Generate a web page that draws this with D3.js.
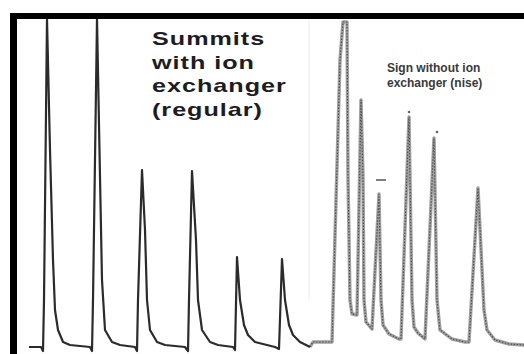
<!DOCTYPE html>
<html>
<head>
<meta charset="utf-8">
<script src="https://cdn.jsdelivr.net/npm/d3@7"></script>
<style>
  html, body { margin: 0; padding: 0; background: #fff; }
  svg { display: block; }
</style>
</head>
<body>
<div id="chart"></div>
<script>
// Trace: time (s from start) and detector signal (arbitrary units)
const regularTime = [12, 24, 26, 27, 30, 33, 36, 38, 41, 46, 53, 73, 75, 76, 80, 83, 85, 88, 95, 103,
  118, 120, 121, 125, 128, 130, 133, 140, 148, 168, 171, 172, 175, 179, 181, 185, 193, 201,
  216, 218, 220, 223, 227, 231, 238, 258, 262, 265, 268, 272, 276, 283, 293];
const regularSignal = [-2, -2, -6, 45, 326, 195, 85, 35, 15, 3, 0, -2, -6, 45, 326, 168, 65, 15, 3, 0,
  -2, -6, 45, 175, 115, 45, 15, 3, 0, -2, -6, 45, 174, 105, 45, 15, 3, 0,
  -2, -5, 88, 45, 20, 10, 3, -2, -4, 86, 45, 20, 10, 3, -2];

const noiseTime = [296, 315, 323, 326, 330, 331, 333, 335, 340, 344, 346, 347, 349, 355, 362, 364, 366,
  372, 382, 384, 392, 395, 397, 401, 408, 417, 420, 423, 435, 448, 452, 461, 467, 470, 478, 492, 507];
const noiseSignal = [3, 3, 285, 323, 323, 168, 45, 31, 30, 245, 168, 45, 23, 16, 151, 45, 20,
  11, 6, 6, 228, 45, 18, 12, 6, 207, 45, 15, 6, 3, 3, 157, 35, 15, 5, 1, 0];

// little pen marks above some of the noisy peaks
const markTime = [359, 392, 420];
const markSignal = [165, 233, 213];
const markKind = ["dash", "dot", "dot"];

const regularLabel = ["Summits", "with ion", "exchanger", "(regular)"];
const noiseLabel = ["Sign without ion", "exchanger (nise)"];

const width = 524, height = 354;
const svg = d3.select("#chart").append("svg").attr("width", width).attr("height", height);

const x = d3.scaleLinear().domain([0, 507]).range([17, 524]);
const y = d3.scaleLinear().domain([0, 325]).range([345, 20]);

// keep the traces inside the frame
svg.append("clipPath").attr("id", "plot-clip")
  .append("rect").attr("x", 17).attr("y", 19).attr("width", width - 17).attr("height", height - 19);

const plot = svg.append("g").attr("clip-path", "url(#plot-clip)");

// faint page seam between the two scans
plot.append("line")
  .attr("x1", x(292)).attr("x2", x(292))
  .attr("y1", 20).attr("y2", 300)
  .attr("stroke", "#e8e8e8").attr("stroke-width", 1);

const line = d3.line().x((d) => x(d[0])).y((d) => y(d[1]));

const regularData = regularTime.map((t, i) => [t, regularSignal[i]]);
const noiseData = noiseTime.map((t, i) => [t, noiseSignal[i]]);

// connect the end of the left trace to the start of the right one
noiseData.unshift(regularData[regularData.length - 1]);

// the scanned right trace is a grey, speckled band
plot.append("path")
  .datum(noiseData)
  .attr("d", line)
  .attr("fill", "none")
  .attr("stroke", "#a0a0a0")
  .attr("stroke-width", 3.4)
  .attr("stroke-linejoin", "round");

plot.append("path")
  .datum(noiseData)
  .attr("d", line)
  .attr("fill", "none")
  .attr("stroke", "#505050")
  .attr("stroke-width", 1.2)
  .attr("stroke-dasharray", "1.5,1.5")
  .attr("stroke-linejoin", "round");

plot.append("path")
  .datum(regularData)
  .attr("d", line)
  .attr("fill", "none")
  .attr("stroke", "#2b2b2b")
  .attr("stroke-width", 2.2)
  .attr("stroke-linejoin", "round");

markTime.forEach((t, i) => {
  if (markKind[i] === "dash") {
    plot.append("line")
      .attr("x1", x(t)).attr("x2", x(t + 10))
      .attr("y1", y(markSignal[i])).attr("y2", y(markSignal[i]))
      .attr("stroke", "#555").attr("stroke-width", 1.5);
  } else {
    plot.append("circle")
      .attr("cx", x(t)).attr("cy", y(markSignal[i]))
      .attr("r", 1.3).attr("fill", "#666");
  }
});

// labels (the left one is stretched sideways in the scan)
svg.append("g")
  .attr("transform", "translate(152,0) scale(1.4,1)")
  .append("text")
  .attr("y", 45)
  .style("font-family", "'Liberation Sans', Arial, sans-serif")
  .style("font-weight", "bold")
  .style("font-size", "18px")
  .style("letter-spacing", "0.7px")
  .attr("fill", "#1c1c22")
  .selectAll("tspan")
  .data(regularLabel)
  .join("tspan")
  .attr("x", 0)
  .attr("dy", (d, i) => (i === 0 ? 0 : 23.7))
  .text((d) => d);

svg.append("text")
  .attr("x", 387)
  .attr("y", 72)
  .style("font-family", "'Liberation Sans', Arial, sans-serif")
  .style("font-weight", "bold")
  .style("font-size", "12px")
  .attr("fill", "#3a3a3a")
  .selectAll("tspan")
  .data(noiseLabel)
  .join("tspan")
  .attr("x", 387)
  .attr("dy", (d, i) => (i === 0 ? 0 : 15))
  .text((d) => d);

// black frame along the top and left edge
svg.append("rect").attr("x", 10).attr("y", 13).attr("width", width - 10).attr("height", 6).attr("fill", "#000");
svg.append("rect").attr("x", 10).attr("y", 13).attr("width", 7).attr("height", height - 13).attr("fill", "#000");
</script>
</body>
</html>
